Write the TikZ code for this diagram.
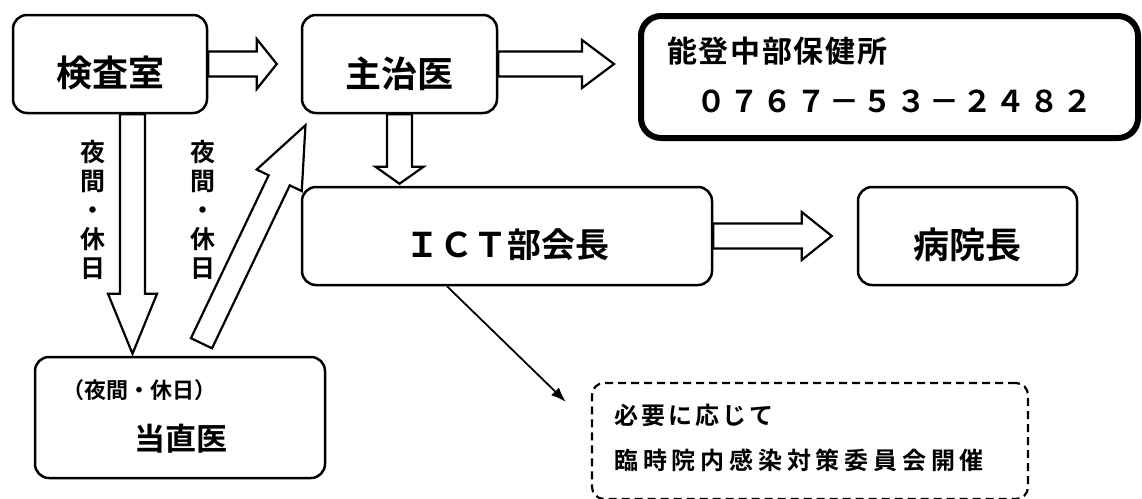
\documentclass[tikz,border=0pt]{standalone}
\usepackage{fontspec}
\setmainfont{Noto Sans CJK JP}[BoldFont={* Bold}]
\usetikzlibrary{calc,arrows.meta}
\newcommand\lsp[2]{\def\lspk{#1}\lsploop#2\relax}
\def\lsploop#1{\ifx#1\relax\else#1\kern\lspk\relax\expandafter\lsploop\fi}
\newcommand\fs[1]{\fontsize{#1}{#1}\selectfont}
% block arrow: start, end, half shaft, half head, head length
\newcommand\blockarrow[5]{%
  \coordinate (bs) at #1;
  \coordinate (be) at #2;
  \coordinate (bh) at ($(be)!#5!(bs)$);
  \draw[blk] ($(bs)!#3!90:(be)$) -- ($(bh)!#3!90:(be)$) -- ($(bh)!#4!90:(be)$)
    -- (be) -- ($(bh)!#4!-90:(be)$) -- ($(bh)!#3!-90:(be)$) -- ($(bs)!#3!-90:(be)$) -- cycle;
}
\tikzset{
  box/.style={draw, line width=2.5pt, rounded corners=14pt, inner sep=0pt},
  blk/.style={draw, line width=2.2pt, line join=miter},
  lbl/.style={font=\bfseries, inner sep=0pt},
  vlbl/.style={font=\bfseries\fontsize{25}{29}\selectfont, inner sep=0pt, align=center, anchor=north},
}
\begin{document}
\begin{tikzpicture}[x=1pt,y=-1pt]
\useasboundingbox (0,0) rectangle (1142,498);
\clip (0,0) rectangle (1142,498);
\fill[white] (0,0) rectangle (1142,498);

% boxes
\node[box, minimum width=194pt, minimum height=98pt] (kensa) at (110,64) {};
\node[box, minimum width=195pt, minimum height=98pt] (shuji) at (399.5,64) {};
\node[box, line width=6pt, rounded corners=20pt, minimum width=497pt, minimum height=122pt] (hoken) at (889.5,77) {};
\node[box, minimum width=410pt, minimum height=98pt] (ict) at (507,236) {};
\node[box, minimum width=219pt, minimum height=98pt] (inchou) at (967.5,236) {};
\node[box, minimum width=290pt, minimum height=121pt] (tochoku) at (180,417.5) {};
\node[box, line width=2.2pt, dash pattern=on 8pt off 5pt, rounded corners=12pt, minimum width=436pt, minimum height=116pt] (iinkai) at (810,441) {};

% texts
\node[lbl, font=\bfseries\fs{36}] (tkensa) at ($(kensa.center)+(0,9)$) {検査室};
\node[lbl, font=\bfseries\fs{36}] (tshuji) at ($(shuji.center)+(0,9.5)$) {主治医};
\node[lbl, font=\bfseries\fs{30}, anchor=west] (thoken1) at (667,51) {\lsp{1.7pt}{能登中部保健所}};
\node[lbl, font=\bfseries\fs{30}, anchor=west] (thoken2) at (696,101) {\lsp{3.3pt}{０７６７－５３－２４８２}};
\node[lbl, font=\bfseries\fs{34}] (tict) at ($(ict.center)+(0,9)$) {ＩＣＴ部会長};
\node[lbl, font=\bfseries\fs{36}] (tinchou) at ($(inchou.center)+(0,8.5)$) {病院長};
\node[lbl, font=\bfseries\fs{22}, anchor=west] (ttoc1) at (62,390) {（夜間・休日）};
\node[lbl, font=\bfseries\fs{31}] (ttoc2) at (181,439) {当直医};
\node[lbl, font=\bfseries\fs{24}, anchor=west] (tii1) at (614,415) {\lsp{3pt}{必要に応じて}};
\node[lbl, font=\bfseries\fs{24}, anchor=west] (tii2) at (614,460) {\lsp{4.8pt}{臨時院内感染対策委員会開催}};
\node[vlbl] (v1) at (93,140) {夜\\間\\・\\休\\日};
\node[vlbl] (v2) at (203,140) {夜\\間\\・\\休\\日};

% block arrows
\blockarrow{(kensa.east)}{($(shuji.west)+(-24,0)$)}{12.5pt}{25pt}{20pt}
\blockarrow{(shuji.east)}{($(shuji.east -| hoken.west)+(-24,0)$)}{12.5pt}{24pt}{32pt}
\blockarrow{(shuji.south)}{($(shuji.south |- ict.north)+(0,-2)$)}{12.5pt}{24pt}{17pt}
\coordinate (a4s) at ($(kensa.south)+(22.5,0)$);
\blockarrow{(a4s)}{($(a4s |- tochoku.north)+(0,-2)$)}{12.5pt}{24.5pt}{60pt}
\blockarrow{($(tochoku.north)+(21.5,-12.5)$)}{($(shuji.south west)+(4.7,11)$)}{11.7pt}{25pt}{61pt}
\blockarrow{(ict.east)}{($(ict.east -| inchou.west)+(-25,0)$)}{12.5pt}{24pt}{30pt}

% thin arrow
\draw[line width=1.8pt, -{Latex[length=15pt,width=11pt]}] ($(ict.south)+(-60,0)$) -- ($(iinkai.north west)+(-25,20)$);
\end{tikzpicture}
\end{document}
